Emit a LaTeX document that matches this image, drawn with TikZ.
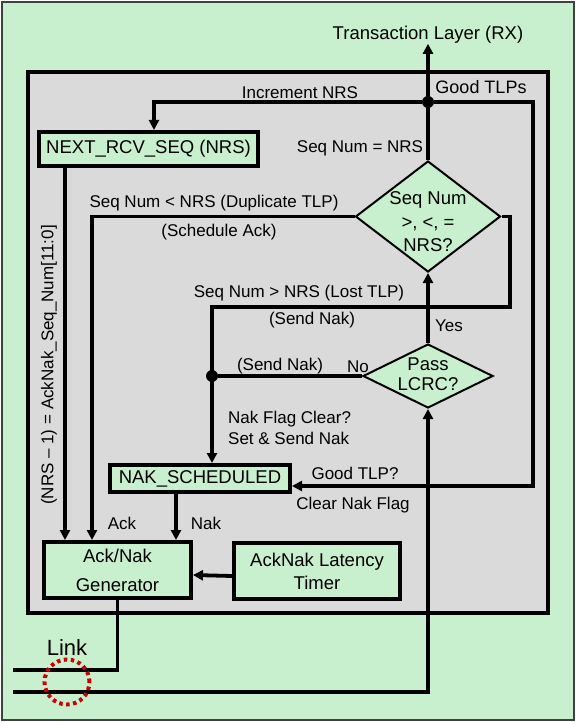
\documentclass[tikz,border=0pt]{standalone}
\usepackage{fontspec}
\setmainfont{Liberation Sans}
\usetikzlibrary{arrows.meta,shapes.geometric}
\definecolor{boxgreen}{RGB}{200,240,206}
\definecolor{panelgray}{RGB}{218,218,218}
\definecolor{linkred}{RGB}{204,0,0}
\tikzset{
	blk/.style={draw,line width=4pt,fill=boxgreen,inner sep=0pt,font=\fontsize{18.5}{22}\selectfont,align=center},
	chk/.style={draw,diamond,line width=2pt,fill=boxgreen,inner sep=0pt},
	chktxt/.style={inner sep=0pt,font=\fontsize{18.5}{23.5}\selectfont,align=center},
	lbl/.style={inner sep=0pt,font=\fontsize{17}{21}\selectfont},
	wire/.style={line width=3.8pt},
	flow/.style={wire,-{Triangle[length=10pt,width=10pt]}},
	dot/.style={circle,fill,inner sep=0pt,minimum size=12pt}
}
\begin{document}
\begin{tikzpicture}[x=1pt,y=-1pt]
			\useasboundingbox (0,0) rectangle (576,722);
			\draw[line width=1.5pt,draw=black!75,fill=boxgreen] (2,2) rectangle (574,720);
			\draw[line width=4pt,fill=panelgray] (28,72) rectangle (548,613);
			\node[lbl,font=\fontsize{18.5}{22}\selectfont] (tl) at (428,35) {Transaction Layer (RX)};
			\node[blk,minimum width=219pt,minimum height=34pt] (nrs) at (148.5,149) {NEXT\_RCV\_SEQ (NRS)};
			\node[chk,minimum width=145pt,minimum height=111pt] (d1) at (428,216.5) {};
			\node[chktxt] (d1txt) at (428,222) {Seq Num\\>, <, =\\NRS?};
			\node[chk,minimum width=130pt,minimum height=64pt] (d2) at (428,376) {};
			\node[chktxt,font=\fontsize{18.5}{20}\selectfont] (d2txt) at (428,374) {Pass\\LCRC?};
			\node[blk,minimum width=180pt,minimum height=27pt] (nak) at (200,478.5) {NAK\_SCHEDULED};
			\node[blk,minimum width=147pt,minimum height=56pt,font=\fontsize{18.5}{29}\selectfont] (gen) at (117.5,570) {Ack/Nak\\Generator};
			\node[blk,minimum width=166pt,minimum height=56pt,font=\fontsize{18.5}{23}\selectfont] (lat) at (317,571) {AckNak Latency\\Timer};
			\node[dot] (j1) at (428,102) {};
			\node[dot] (j2) at (212,376) {};
			\coordinate (incl) at (154,102);
			\coordinate (gtr) at (533,102);
			\coordinate (gtb) at (533,486);
			\coordinate (dupl) at (92,216.5);
			\coordinate (lstr) at (510,216.5);
			\coordinate (lstb) at (510,307);
			\coordinate (lstl) at (212,307);
			\coordinate (lnkb) at (13,692);
			\coordinate (lnkr) at (428,692);
			\coordinate (lnkt) at (13,670);
			\coordinate (gnb) at (117.5,670);
			\draw[flow] (d1.north) -- (tl.south);
			\draw[flow] (j1) -- (incl) -- (incl |- nrs.north);
			\draw[flow] (j1) -- (gtr) -- (gtb) -- (gtb -| nak.east);
			\draw[flow] (d1.west) -- (dupl) -- (dupl |- gen.north);
			\draw[flow] (d1.east) -- (lstr) -- (lstb) -- (lstl) -- (lstl |- nak.north);
			\draw[flow] (d2.north) -- (d1.south);
			\draw[wire] (d2.west) -- (j2);
			\draw[flow] (lnkb) -- (lnkr) -- (d2.south);
			\draw[wire] (gen.south) -- (gnb) -- (lnkt);
			\draw[flow] ([xshift=-83.5pt]nrs.south) -- ([xshift=-52.5pt]gen.north);
			\draw[flow] ([xshift=-24pt]nak.south) -- ([xshift=58.5pt]gen.north);
			\draw[flow] ([yshift=-5pt]lat.west) -- ([yshift=-5pt]gen.east);
			\draw[linkred,line width=4pt,dash pattern=on 3.5pt off 3.5pt] (67,682) circle[radius=22.5pt];
			\node[font=\fontsize{22}{26}\selectfont,inner sep=0pt] (lnk) at (67,648) {Link};
			\node[lbl,rotate=90] (ackseq) at (49,365) {(NRS – 1) = AckNak\_Seq\_Num[11:0]};
			\node[lbl,font=\fontsize{18}{22}\selectfont] (gtlps) at (481,87) {Good TLPs};
			\node[lbl] (incnrs) at (300,93) {Increment NRS};
			\node[lbl] (eqnrs) at (360,148) {Seq Num = NRS};
			\node[lbl] (ltnrs) at (214,203) {Seq Num < NRS (Duplicate TLP)};
			\node[lbl] (schack) at (219,232) {(Schedule Ack)};
			\node[lbl] (gtnrs) at (299,293) {Seq Num > NRS (Lost TLP)};
			\node[lbl] (snak1) at (312,320) {(Send Nak)};
			\node[lbl] (yes) at (449,326) {Yes};
			\node[lbl] (no) at (358,367) {No};
			\node[lbl] (snak2) at (280,366) {(Send Nak)};
			\node[lbl,anchor=west,align=left] (nakclr) at (228,427.5) {Nak Flag Clear?\\Set \& Send Nak};
			\node[lbl] (goodtlp) at (355,473) {Good TLP?};
			\node[lbl] (clrnak) at (353,505) {Clear Nak Flag};
			\node[lbl] (ack) at (122,523) {Ack};
			\node[lbl] (nakl) at (206,523) {Nak};
			\end{tikzpicture}
\end{document}
